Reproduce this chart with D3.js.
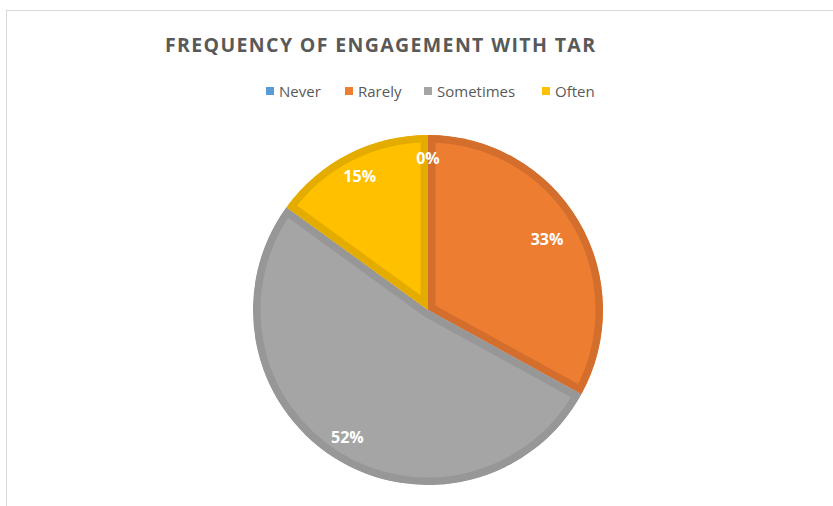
<html>
<head>
<meta charset="utf-8">
<script src="https://cdn.jsdelivr.net/npm/d3@7/dist/d3.min.js"></script>
<style>
  body { margin: 0; background: #fff; }
  text { font-family: "Open Sans", sans-serif; }
</style>
</head>
<body>
<div id="chart"></div>
<script>
// data
const categories = ["Never", "Rarely", "Sometimes", "Often"];
const values = [0, 33, 52, 15];
const labels = ["0%", "33%", "52%", "15%"];

// couleurs façon Excel
const fills = ["#5B9BD5", "#ED7D31", "#A5A5A5", "#FFC000"];
const edges = ["#4F88BC", "#D36E2D", "#979797", "#E5AC00"];
// rayon des étiquettes (fraction du rayon) - placement "best fit"
const labelPos = [0.87, 0.79, 0.86, 0.86];

const width = 833, height = 506;
const cx = 428, cy = 310, r = 175;

const svg = d3.select("#chart").append("svg")
  .attr("width", width)
  .attr("height", height);

// cadre du graphique
svg.append("rect")
  .attr("x", 6.5).attr("y", 10.5)
  .attr("width", 900).attr("height", 600)
  .attr("fill", "none")
  .attr("stroke", "#D9D9D9")
  .attr("stroke-width", 1);

// titre
svg.append("text")
  .attr("x", 380).attr("y", 52)
  .attr("text-anchor", "middle")
  .attr("font-size", 19.5)
  .attr("font-weight", "bold")
  .attr("fill", "#595959")
  .attr("textLength", 430)
  .attr("lengthAdjust", "spacing")
  .text("FREQUENCY OF ENGAGEMENT WITH TAR");

// légende
const legendX = [266, 345, 424, 542];
const legend = svg.append("g");
categories.forEach(function(c, i) {
  legend.append("rect")
    .attr("x", legendX[i]).attr("y", 87)
    .attr("width", 8).attr("height", 8)
    .attr("fill", fills[i]);
  legend.append("text")
    .attr("x", legendX[i] + 13).attr("y", 97)
    .attr("font-size", 15)
    .attr("fill", "#595959")
    .text(c);
});

// camembert
const pie = d3.pie().sort(null).value(d => d);
const arc = d3.arc().innerRadius(0).outerRadius(r);
const arcs = pie(values);

const g = svg.append("g").attr("transform", "translate(" + cx + "," + cy + ")");
const defs = svg.append("defs");

arcs.forEach(function(d, i) {
  if (d.value === 0) return;
  defs.append("clipPath").attr("id", "clip" + i)
    .append("path").attr("d", arc(d));
  g.append("path")
    .attr("d", arc(d))
    .attr("fill", fills[i])
    .attr("stroke", edges[i])
    .attr("stroke-width", 15)
    .attr("stroke-linejoin", "round")
    .attr("clip-path", "url(#clip" + i + ")");
});

// étiquettes
arcs.forEach(function(d, i) {
  const la = d3.arc().innerRadius(r * labelPos[i]).outerRadius(r * labelPos[i]);
  const p = la.centroid(d);
  g.append("text")
    .attr("x", p[0]).attr("y", p[1])
    .attr("dy", "0.36em")
    .attr("text-anchor", "middle")
    .attr("font-size", 16)
    .attr("font-weight", "bold")
    .attr("fill", "#FFFFFF")
    .text(labels[i]);
});
</script>
</body>
</html>
